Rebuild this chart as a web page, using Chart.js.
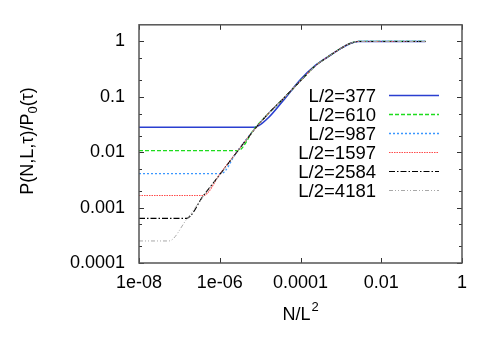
<!DOCTYPE html>
<html>
<head>
<meta charset="utf-8">
<script src="https://cdn.jsdelivr.net/npm/chart.js@4/dist/chart.umd.min.js"></script>
<style>
  html, body { margin: 0; padding: 0; background: #fff; }
  #wrap { width: 491px; height: 343px; }
</style>
</head>
<body>
<div id="wrap"><canvas id="c" width="491" height="343"></canvas></div>
<script>
// Axis ticks
const xTicks = [1e-8, 1e-6, 1e-4, 1e-2, 1];
const xTickLabels = ['1e-08', '1e-06', '0.0001', '0.01', '1'];
const yTicks = [1e-4, 1e-3, 1e-2, 1e-1, 1];
const yTickLabels = ['0.0001', '0.001', '0.01', '0.1', '1'];
const yMinorTicks = [2e-4, 5e-4, 2e-3, 5e-3, 2e-2, 5e-2, 0.2, 0.5];

// Series
const seriesLabels = ['L/2=377', 'L/2=610', 'L/2=987', 'L/2=1597', 'L/2=2584', 'L/2=4181'];

const x377 = [1e-8, 7.2e-6, 1.6e-5, 3.7e-5, 1e-4, 2.3e-4, 5e-4, 1e-3, 1.7e-3, 2.7e-3, 0.125];
const y377 = [0.0283, 0.0283, 0.042, 0.085, 0.205, 0.365, 0.54, 0.75, 0.92, 1, 1];

const x610 = [1e-8, 2.8e-6, 7.2e-6, 1.6e-5, 3.7e-5, 1e-4, 2.3e-4, 5e-4, 1e-3, 1.7e-3, 2.7e-3, 0.125];
const y610 = [0.0107, 0.0107, 0.0265, 0.05, 0.092, 0.195, 0.36, 0.54, 0.75, 0.92, 1, 1];

const x987 = [1e-8, 1.07e-6, 2.7e-6, 7.2e-6, 1.6e-5, 3.7e-5, 1e-4, 2.3e-4, 5e-4, 1e-3, 1.7e-3, 2.7e-3, 0.125];
const y987 = [0.0041, 0.0041, 0.0104, 0.0258, 0.05, 0.092, 0.195, 0.36, 0.54, 0.75, 0.92, 1, 1];

const x1597 = [1e-8, 3.9e-7, 1.07e-6, 2.7e-6, 7.2e-6, 1.6e-5, 3.7e-5, 1e-4, 2.3e-4, 5e-4, 1e-3, 1.7e-3, 2.7e-3, 0.125];
const y1597 = [0.00166, 0.00166, 0.0043, 0.0103, 0.0256, 0.05, 0.092, 0.195, 0.36, 0.54, 0.75, 0.92, 1, 1];

const x2584 = [1e-8, 1.5e-7, 3.9e-7, 1.07e-6, 2.7e-6, 7.2e-6, 1.6e-5, 3.7e-5, 1e-4, 2.3e-4, 5e-4, 1e-3, 1.7e-3, 2.7e-3, 0.125];
const y2584 = [0.00064, 0.00064, 0.00163, 0.0042, 0.0102, 0.0256, 0.05, 0.092, 0.195, 0.36, 0.54, 0.75, 0.92, 1, 1];

const x4181 = [1e-8, 5.5e-8, 1.5e-7, 3.9e-7, 1.07e-6, 2.7e-6, 7.2e-6, 1.6e-5, 3.7e-5, 1e-4, 2.3e-4, 5e-4, 1e-3, 1.7e-3, 2.7e-3, 0.125];
const y4181 = [0.00025, 0.00025, 0.00061, 0.00158, 0.0041, 0.0101, 0.0255, 0.05, 0.092, 0.195, 0.36, 0.54, 0.75, 0.92, 1, 1];

const FONT = '"Liberation Sans", Arial, Helvetica, sans-serif';

function pts(xs, ys) {
  return xs.map(function(x, i) { return { x: x, y: ys[i] }; });
}

const styles = [
  { color: '#2a3fd0', width: 1.6, dash: [] },
  { color: '#1edc1e', width: 1.3, dash: [4, 2] },
  { color: '#3a96ff', width: 1.3, dash: [2, 2] },
  { color: '#ff4a4a', width: 1.1, dash: [1.5, 1] },
  { color: '#000000', width: 1.1, dash: [6, 2, 1.5, 2] },
  { color: '#a8a8a8', width: 1.0, dash: [4, 2, 1, 2, 1, 2] }
];

const seriesData = [pts(x377, y377), pts(x610, y610), pts(x987, y987),
                    pts(x1597, y1597), pts(x2584, y2584), pts(x4181, y4181)];

const datasets = seriesData.map(function(d, i) {
  return {
    label: seriesLabels[i],
    data: d,
    borderColor: styles[i].color,
    borderWidth: styles[i].width,
    borderDash: styles[i].dash,
    pointRadius: 0,
    fill: false,
    cubicInterpolationMode: 'monotone'
  };
}).reverse(); // draw the smallest L on top

// Frame, inward ticks, legend and axis titles in gnuplot style
const gnuplotDecor = {
  id: 'gnuplotDecor',
  afterDatasetsDraw: function(chart) {
    const ctx = chart.ctx;
    const a = chart.chartArea;
    const xs = chart.scales.x;
    const ys = chart.scales.y;
    ctx.save();

    // ticks
    ctx.strokeStyle = '#333';
    ctx.lineWidth = 1;
    ctx.setLineDash([]);
    ctx.beginPath();
    xTicks.forEach(function(v) {
      const px = Math.round(xs.getPixelForValue(v)) + 0.5;
      ctx.moveTo(px, a.bottom); ctx.lineTo(px, a.bottom - 5);
      ctx.moveTo(px, a.top); ctx.lineTo(px, a.top + 5);
    });
    yTicks.forEach(function(v) {
      const py = Math.round(ys.getPixelForValue(v)) + 0.5;
      ctx.moveTo(a.left, py); ctx.lineTo(a.left + 5, py);
      ctx.moveTo(a.right, py); ctx.lineTo(a.right - 5, py);
    });
    yMinorTicks.forEach(function(v) {
      const py = Math.round(ys.getPixelForValue(v)) + 0.5;
      ctx.moveTo(a.left, py); ctx.lineTo(a.left + 3, py);
      ctx.moveTo(a.right, py); ctx.lineTo(a.right - 3, py);
    });
    ctx.stroke();

    // frame
    ctx.strokeStyle = '#555';
    ctx.lineWidth = 1.5;
    ctx.strokeRect(a.left, a.top, a.right - a.left, a.bottom - a.top);

    // legend: right-aligned text with line samples
    ctx.font = '18.5px ' + FONT;
    ctx.fillStyle = '#000';
    ctx.textAlign = 'right';
    ctx.textBaseline = 'middle';
    seriesLabels.forEach(function(lbl, i) {
      const y = 95.5 + i * 19;
      ctx.fillText(lbl, 376, y + 1);
      ctx.strokeStyle = styles[i].color;
      ctx.lineWidth = styles[i].width;
      ctx.setLineDash(styles[i].dash);
      ctx.beginPath();
      ctx.moveTo(389, y);
      ctx.lineTo(439, y);
      ctx.stroke();
    });
    ctx.setLineDash([]);

    // x title: N/L^2
    ctx.textAlign = 'left';
    ctx.textBaseline = 'alphabetic';
    const t1 = 'N/L';
    ctx.font = '13px ' + FONT;
    const w2 = ctx.measureText('2').width;
    ctx.font = '18px ' + FONT;
    const w1 = ctx.measureText(t1).width;
    const cx = (a.left + a.right) / 2;
    const x0 = cx - (w1 + w2 + 1) / 2;
    ctx.fillText(t1, x0, 320);
    ctx.font = '13px ' + FONT;
    ctx.fillText('2', x0 + w1 + 1, 311);

    // y title: P(N,L,tau)/P_0(tau)
    ctx.save();
    ctx.translate(33, 141);
    ctx.rotate(-Math.PI / 2);
    const p1 = 'P(N,L,\u03c4)/P';
    const p2 = '0';
    const p3 = '(\u03c4)';
    ctx.font = '18px ' + FONT;
    const a1 = ctx.measureText(p1).width;
    const a3 = ctx.measureText(p3).width;
    ctx.font = '13px ' + FONT;
    const a2 = ctx.measureText(p2).width;
    const sx = -(a1 + a2 + a3) / 2;
    ctx.font = '18px ' + FONT;
    ctx.fillText(p1, sx, 0);
    ctx.font = '13px ' + FONT;
    ctx.fillText(p2, sx + a1, 4);
    ctx.font = '18px ' + FONT;
    ctx.fillText(p3, sx + a1 + a2, 0);
    ctx.restore();

    ctx.restore();
  }
};

new Chart(document.getElementById('c').getContext('2d'), {
  type: 'line',
  data: { datasets: datasets },
  options: {
    responsive: false,
    animation: false,
    events: [],
    layout: { padding: { top: 22, right: 29, left: 0, bottom: 0 } },
    plugins: { legend: { display: false }, tooltip: { enabled: false } },
    scales: {
      x: {
        type: 'logarithmic',
        min: 1e-8,
        max: 1,
        afterBuildTicks: function(s) { s.ticks = xTicks.map(function(v) { return { value: v }; }); },
        afterFit: function(s) { s.height = 80; },
        grid: { display: false, drawTicks: false },
        border: { display: false },
        ticks: {
          autoSkip: false,
          maxRotation: 0,
          padding: 9,
          color: '#000',
          font: { family: FONT, size: 18 },
          callback: function(v) { const i = xTicks.indexOf(v); return i >= 0 ? xTickLabels[i] : ''; }
        }
      },
      y: {
        type: 'logarithmic',
        min: 1e-4,
        max: 2,
        afterBuildTicks: function(s) { s.ticks = yTicks.map(function(v) { return { value: v }; }); },
        afterFit: function(s) { s.width = 139; },
        grid: { display: false, drawTicks: false },
        border: { display: false },
        ticks: {
          autoSkip: false,
          padding: 14,
          color: '#000',
          font: { family: FONT, size: 18 },
          callback: function(v) { const i = yTicks.indexOf(v); return i >= 0 ? yTickLabels[i] : ''; }
        }
      }
    }
  },
  plugins: [gnuplotDecor]
});
</script>
</body>
</html>
